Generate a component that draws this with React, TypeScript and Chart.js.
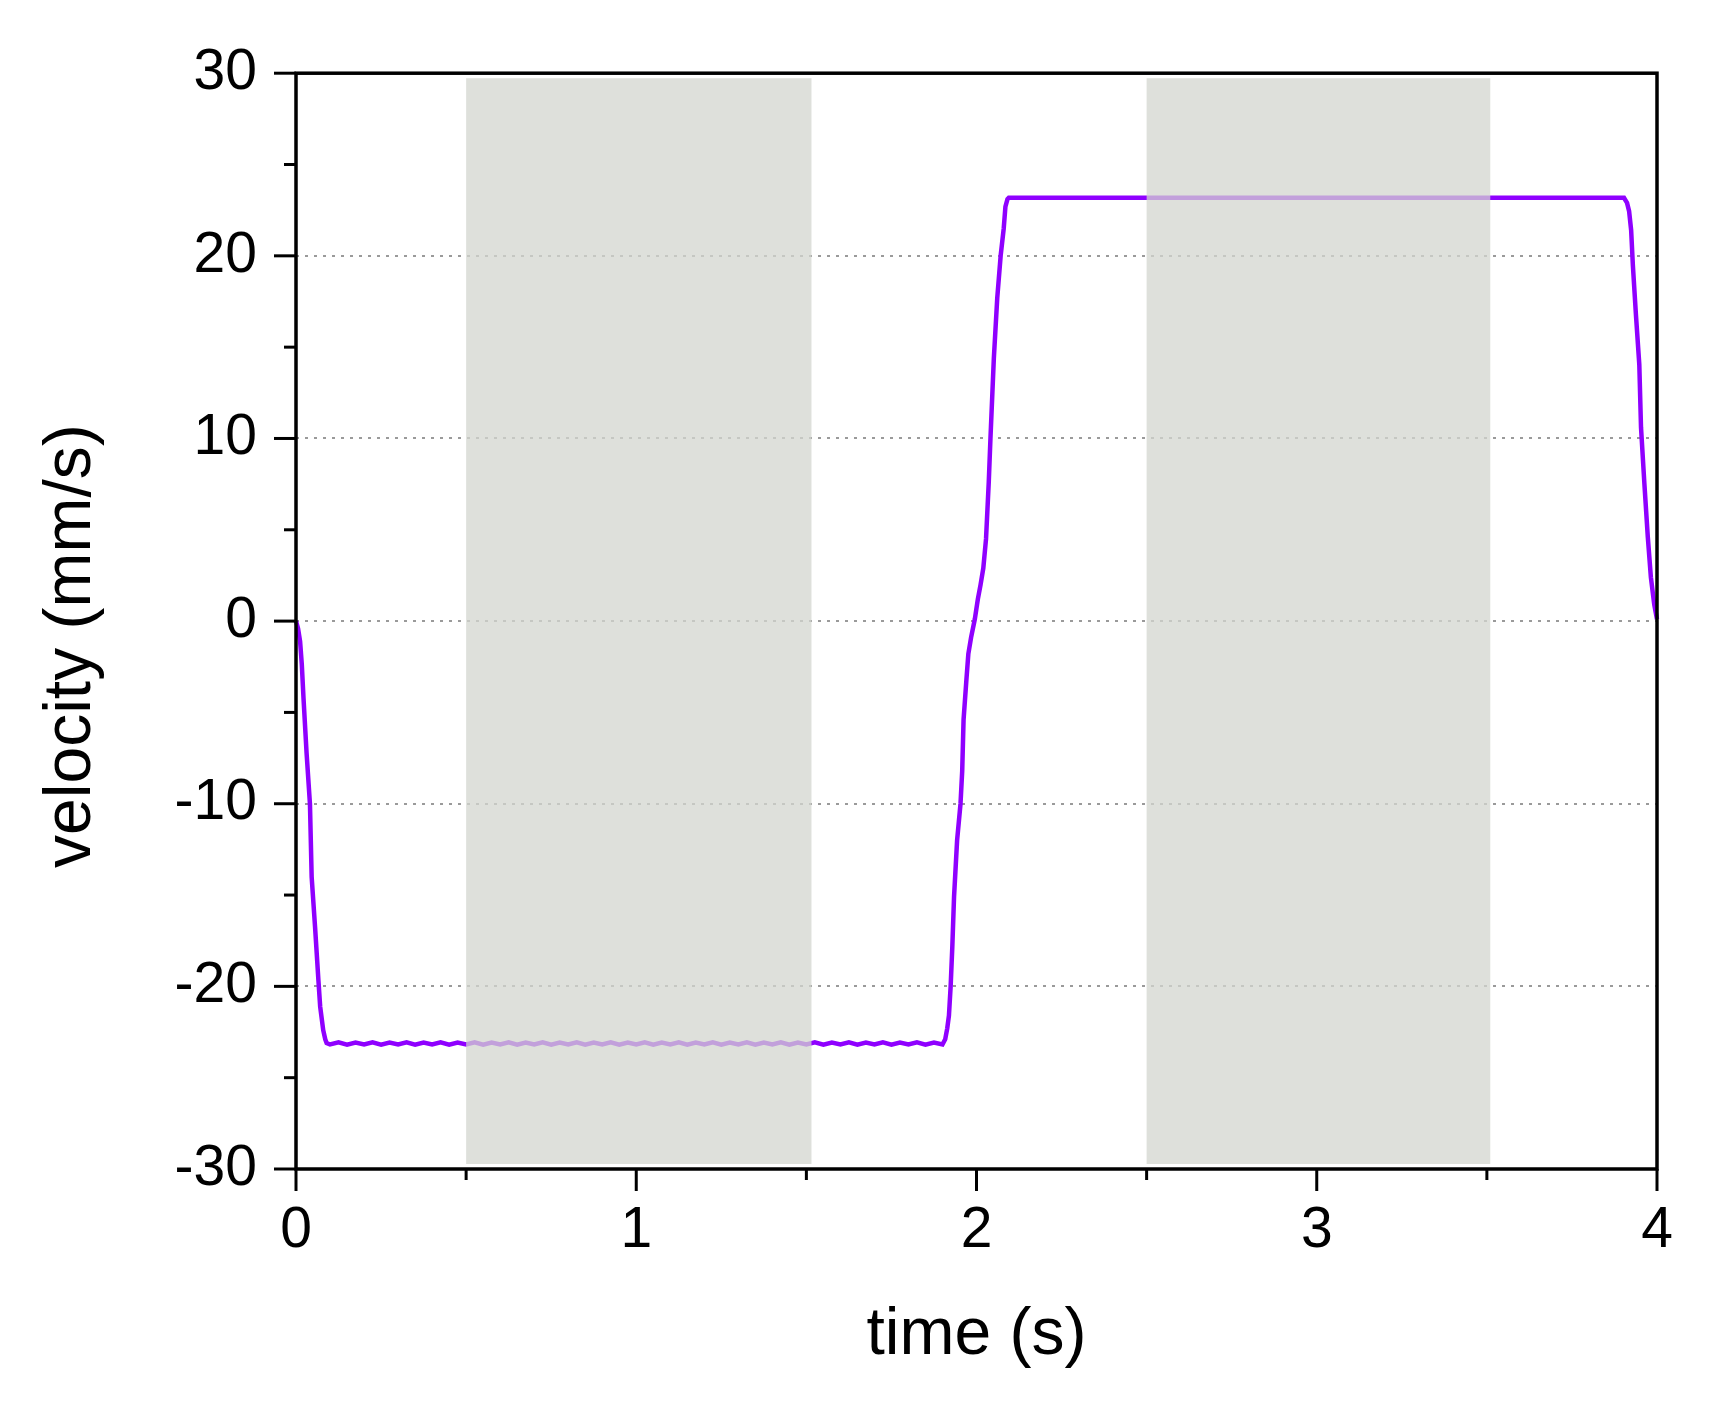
import React, { useEffect, useRef } from 'react';
import { Chart, registerables } from 'chart.js';

Chart.register(...registerables);

// ---- data ----
const timeS: number[] = [
  0, 0.006, 0.012, 0.017, 0.022, 0.031, 0.041, 0.046, 0.056, 0.066, 0.071, 0.080, 0.086, 0.090,
  0.100, 0.125, 0.150, 0.175, 0.200, 0.225, 0.250, 0.275, 0.300, 0.325, 0.350, 0.375, 0.400, 0.425,
  0.450, 0.475, 0.500, 0.525, 0.550, 0.575, 0.600, 0.625, 0.650, 0.675, 0.700, 0.725, 0.750, 0.775,
  0.800, 0.825, 0.850, 0.875, 0.900, 0.925, 0.950, 0.975, 1.000, 1.025, 1.050, 1.075, 1.100, 1.125,
  1.150, 1.175, 1.200, 1.225, 1.250, 1.275, 1.300, 1.325, 1.350, 1.375, 1.400, 1.425, 1.450, 1.475,
  1.500, 1.525, 1.550, 1.575, 1.600, 1.625, 1.650, 1.675, 1.700, 1.725, 1.750, 1.775, 1.800, 1.825,
  1.850, 1.875, 1.900,
  1.908, 1.914, 1.919, 1.924, 1.929, 1.934, 1.943, 1.953, 1.958, 1.962, 1.970, 1.976, 1.984, 1.995,
  2.004, 2.012, 2.020, 2.028, 2.036, 2.041, 2.051, 2.061, 2.071, 2.080, 2.085, 2.091, 2.095,
  2.300, 2.600, 3.000, 3.400, 3.700, 3.903,
  3.912, 3.918, 3.924, 3.929, 3.938, 3.948, 3.953, 3.963, 3.973, 3.982, 3.992, 4.000,
];

const velocity: number[] = [
  0, -0.4, -1.1, -2.35, -4.2, -7.2, -10, -14, -16.75, -19.7, -21.1, -22.4, -22.9, -23.1,
  -23.18, -23.07, -23.19, -23.08, -23.18, -23.07, -23.19, -23.08, -23.18, -23.07, -23.19, -23.08, -23.18, -23.07,
  -23.19, -23.08, -23.18, -23.07, -23.19, -23.08, -23.18, -23.07, -23.19, -23.08, -23.18, -23.07, -23.19, -23.08,
  -23.18, -23.07, -23.19, -23.08, -23.18, -23.07, -23.19, -23.08, -23.18, -23.07, -23.19, -23.08, -23.18, -23.07,
  -23.19, -23.08, -23.18, -23.07, -23.19, -23.08, -23.18, -23.07, -23.19, -23.08, -23.18, -23.07, -23.19, -23.08,
  -23.18, -23.07, -23.19, -23.08, -23.18, -23.07, -23.19, -23.08, -23.18, -23.07, -23.19, -23.08, -23.18, -23.07,
  -23.19, -23.08, -23.18,
  -22.9, -22.3, -21.6, -20, -17.8, -15.1, -12, -10, -8.2, -5.4, -3.3, -1.8, -0.9, 0.1,
  1.2, 2.0, 2.9, 4.5, 7.6, 10, 14.4, 17.7, 20, 21.5, 22.7, 23.1, 23.18,
  23.18, 23.18, 23.18, 23.18, 23.18, 23.18,
  22.9, 22.45, 21.4, 19.5, 16.8, 14.05, 10.6, 7.5, 4.6, 2.4, 0.9, 0.1,
];

const shadeStart: number[] = [0.5, 2.5];
const shadeEnd: number[] = [1.515, 3.51];

const xTickLabels: string[] = ['0', '1', '2', '3', '4'];
const yTickLabels: string[] = ['-30', '-20', '-10', '0', '10', '20', '30'];
const gridValues: number[] = [-20, -10, 0, 10, 20];

const xTitle = 'time (s)';
const yTitle = 'velocity (mm/s)';

// ---- styles ----
const FONT = '"Liberation Sans", Arial, sans-serif';
const LINE_COLOR = '#8f00ff';
const SHADE_COLOR = 'rgba(211,213,207,0.75)';

const decorPlugin = {
  id: 'decor',
  afterDatasetsDraw(chart: any) {
    const { ctx, chartArea: a, scales } = chart;
    const x = scales.x;
    ctx.save();
    ctx.fillStyle = SHADE_COLOR;
    for (let i = 0; i < shadeStart.length; i++) {
      const x0 = x.getPixelForValue(shadeStart[i]);
      const x1 = x.getPixelForValue(shadeEnd[i]);
      ctx.fillRect(x0, a.top + 5, x1 - x0, a.bottom - a.top - 10);
    }
    ctx.restore();
  },
  afterDraw(chart: any) {
    const { ctx, chartArea: a, scales } = chart;
    const x = scales.x;
    const y = scales.y;
    ctx.save();
    ctx.strokeStyle = '#000';
    ctx.lineWidth = 3.5;
    ctx.lineCap = 'square';
    ctx.strokeRect(a.left, a.top, a.right - a.left, a.bottom - a.top);

    ctx.lineWidth = 3;
    ctx.lineCap = 'butt';
    // y ticks (outward, left)
    y.ticks.forEach((t: any) => {
      const py = y.getPixelForValue(t.value);
      const major = yTickLabels.includes(String(t.value));
      const len = major ? 22 : 12;
      ctx.beginPath();
      ctx.moveTo(a.left - len, py);
      ctx.lineTo(a.left, py);
      ctx.stroke();
    });
    // x ticks (outward, down)
    x.ticks.forEach((t: any) => {
      const px = x.getPixelForValue(t.value);
      const major = xTickLabels.includes(String(t.value));
      const len = major ? 22 : 11;
      ctx.beginPath();
      ctx.moveTo(px, a.bottom);
      ctx.lineTo(px, a.bottom + len);
      ctx.stroke();
    });

    // axis titles
    ctx.fillStyle = '#000';
    ctx.font = `66px ${FONT}`;
    ctx.textAlign = 'center';
    ctx.textBaseline = 'alphabetic';
    ctx.fillText(xTitle, (a.left + a.right) / 2, a.bottom + 185);
    ctx.translate(a.left - 206, (a.top + a.bottom) / 2 + 25);
    ctx.rotate(-Math.PI / 2);
    ctx.fillText(yTitle, 0, 0);
    ctx.restore();
  },
};

export default function App() {
  const canvasRef = useRef<HTMLCanvasElement | null>(null);

  useEffect(() => {
    const canvas = canvasRef.current;
    if (!canvas) return;
    const points = timeS.map((t, i) => ({ x: t, y: velocity[i] }));
    const chart = new Chart(canvas, {
      type: 'line',
      data: {
        datasets: [
          {
            data: points,
            borderColor: LINE_COLOR,
            borderWidth: 4.5,
            pointRadius: 0,
            tension: 0,
            fill: false,
            clip: false as any,
          },
        ],
      },
      plugins: [decorPlugin],
      options: {
        animation: false,
        responsive: false,
        devicePixelRatio: 1,
        layout: { padding: { left: 0, top: 72, right: 60, bottom: 0 } },
        plugins: {
          legend: { display: false },
          tooltip: { enabled: false },
        },
        scales: {
          x: {
            type: 'linear',
            min: 0,
            max: 4,
            border: { display: false },
            grid: { display: false, drawTicks: false },
            ticks: {
              stepSize: 0.5,
              autoSkip: false,
              maxRotation: 0,
              padding: 28,
              color: '#000',
              font: { family: FONT, size: 57 },
              callback: (v: any) => (xTickLabels.includes(String(v)) ? String(v) : ''),
            },
            afterFit: (scale: any) => {
              scale.height = 257;
            },
          },
          y: {
            type: 'linear',
            min: -30,
            max: 30,
            border: { display: false, dash: [3, 6] },
            grid: {
              drawTicks: false,
              lineWidth: 2,
              color: (c: any) =>
                c.tick && gridValues.includes(c.tick.value) ? '#9a9a9a' : 'rgba(0,0,0,0)',
            },
            ticks: {
              stepSize: 5,
              autoSkip: false,
              padding: 39,
              color: '#000',
              font: { family: FONT, size: 57 },
              callback: (v: any) => (yTickLabels.includes(String(v)) ? String(v) : ''),
            },
            afterFit: (scale: any) => {
              scale.width = 296;
            },
          },
        },
      } as any,
    });
    return () => chart.destroy();
  }, []);

  return (
    <div style={{ position: 'fixed', left: 0, top: 0, width: 1717, height: 1426, background: '#fff' }}>
      <canvas ref={canvasRef} width={1717} height={1426} style={{ display: 'block' }} />
    </div>
  );
}
